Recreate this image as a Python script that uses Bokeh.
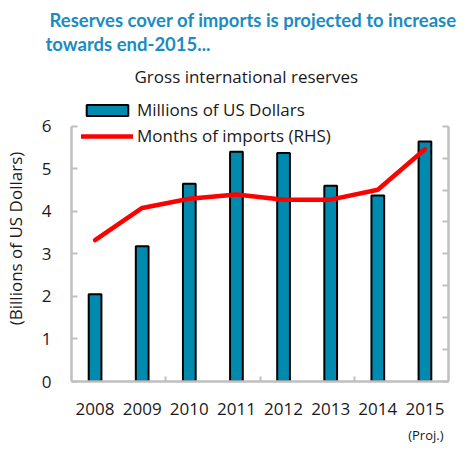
from bokeh.plotting import figure
from bokeh.models import (Range1d, LinearAxis, FixedTicker, Legend, LegendItem, Title, ColumnDataSource)
from bokeh.embed import file_html
from bokeh.resources import INLINE

years = ["2008", "2009", "2010", "2011", "2012", "2013", "2014", "2015"]
reserves = [2.05, 3.18, 4.65, 5.40, 5.37, 4.60, 4.37, 5.64]
months_imports = [4.43, 5.44, 5.73, 5.86, 5.70, 5.70, 6.01, 7.28]
left_ticks = [0, 1, 2, 3, 4, 5, 6]
right_ticks = [0, 1, 2, 3, 4, 5, 6, 7, 8]

FONT = "Open Sans"
AXIS_GRAY = "#BFBFBF"
TXT = "#1a1a1a"
FS = "17px"

# frame spans page y 95..383; axes drawn only over their data bounds
LEFT_TOP = 6 * (383 - 95) / (383 - 126)
RIGHT_TOP = 8 * (383 - 95) / (383 - 126)

xs = list(range(len(years)))
src = ColumnDataSource(dict(x=xs, reserves=reserves, months=months_imports))

p = figure(width=466, height=453, output_backend="svg", toolbar_location=None,
           x_range=Range1d(-0.5, len(years) - 0.5), y_range=Range1d(0, LEFT_TOP),
           min_border_left=68, min_border_right=18, min_border_top=95, min_border_bottom=70)
p.extra_y_ranges = {"months": Range1d(0, RIGHT_TOP)}
p.outline_line_color = None
p.xgrid.grid_line_color = None
p.ygrid.grid_line_color = None
p.background_fill_color = "white"
p.border_fill_color = "white"

bars = p.vbar(x="x", top="reserves", width=0.27, source=src,
              fill_color="#008AB0", line_color="black", line_width=2)
line = p.line(x="x", y="months", source=src, y_range_name="months",
              line_color="#FF0000", line_width=4.5, line_join="round", line_cap="round")

# x axis
xa = p.xaxis[0]
xa.ticker = FixedTicker(ticks=xs, minor_ticks=[1.5, 3.5, 5.5])
xa.major_label_overrides = {i: y for i, y in enumerate(years)}
xa.axis_line_color = AXIS_GRAY
xa.axis_line_width = 2.5
xa.major_tick_line_color = None
xa.major_tick_out = 0
xa.major_tick_in = 0
xa.minor_tick_line_color = AXIS_GRAY
xa.minor_tick_line_width = 2
xa.minor_tick_in = 5
xa.minor_tick_out = 0
xa.major_label_standoff = 21
xa.major_label_text_font = FONT
xa.major_label_text_font_size = FS
xa.major_label_text_color = TXT

# left axis
ya = p.yaxis[0]
ya.ticker = FixedTicker(ticks=left_ticks)
ya.bounds = (0, 6)
ya.axis_line_color = AXIS_GRAY
ya.axis_line_width = 2.5
ya.major_tick_line_color = AXIS_GRAY
ya.major_tick_line_width = 2
ya.major_tick_in = 6
ya.major_tick_out = 0
ya.minor_tick_line_color = None
ya.major_label_standoff = 20
ya.major_label_text_font = FONT
ya.major_label_text_font_size = FS
ya.major_label_text_color = TXT
ya.axis_label = "(Billions of US Dollars)"
ya.axis_label_text_font = FONT
ya.axis_label_text_font_size = FS
ya.axis_label_text_font_style = "normal"
ya.axis_label_text_color = TXT
ya.axis_label_standoff = 12

# right axis (no labels)
ra = LinearAxis(y_range_name="months", ticker=FixedTicker(ticks=right_ticks), bounds=(0, 8))
ra.major_label_overrides = {t: "" for t in right_ticks}
ra.axis_line_color = AXIS_GRAY
ra.axis_line_width = 2.5
ra.major_tick_line_color = AXIS_GRAY
ra.major_tick_line_width = 2
ra.major_tick_in = 6
ra.major_tick_out = 0
ra.minor_tick_line_color = None
ra.major_label_standoff = 0
p.add_layout(ra, "right")

legend = Legend(items=[LegendItem(label="Millions of US Dollars", renderers=[bars]),
                       LegendItem(label="Months of imports (RHS)", renderers=[line])],
                location=(10, 234), orientation="vertical",
                glyph_width=52, glyph_height=14, label_height=22, spacing=3,
                padding=0, margin=0, label_standoff=4,
                border_line_color=None, background_fill_alpha=0,
                label_text_font=FONT, label_text_font_size=FS, label_text_color=TXT)
p.add_layout(legend, "center")

# "(Proj.)" note under the x axis
p.add_layout(Title(text="(Proj.)", align="right", offset=5, standoff=16, vertical_align="top",
                   text_font=FONT, text_font_size="13px", text_font_style="normal",
                   text_color=TXT), "below")

# top panels, first added is closest to the frame
p.add_layout(Title(text="Gross international reserves", align="left", offset=63, standoff=15,
                   text_font=FONT, text_font_size=FS, text_font_style="normal",
                   text_color=TXT), "above")
p.add_layout(Title(text="towards end-2015...", align="left", offset=-26, standoff=1,
                   text_font="Lato", text_font_size="18.5px", text_font_style="bold",
                   text_color="#1A8CC1"), "above")
p.add_layout(Title(text="Reserves cover of imports is projected to increase", align="left",
                   offset=-26, standoff=0, padding=(4, 0, 0, 0), text_line_height=1.0,
                   text_font="Lato", text_font_size="18.5px", text_font_style="bold",
                   text_color="#1A8CC1"), "above")

open("out.html", "w").write(file_html(p, INLINE))
